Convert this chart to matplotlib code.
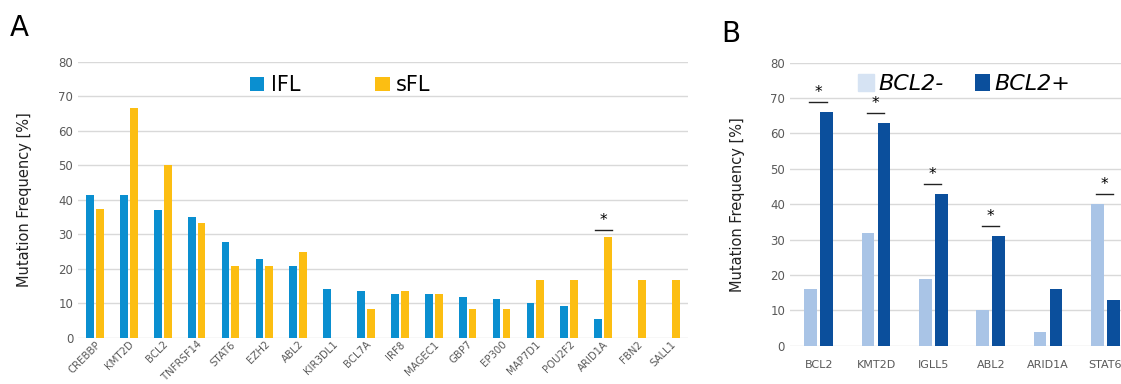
import numpy as np
import matplotlib.pyplot as plt

# panel A data
genesA = ["CREBBP", "KMT2D", "BCL2", "TNFRSF14", "STAT6", "EZH2", "ABL2", "KIR3DL1", "BCL7A", "IRF8",
          "MAGEC1", "GBP7", "EP300", "MAP7D1", "POU2F2", "ARID1A", "FBN2", "SALL1"]
lFL = [41.3, 41.3, 37.1, 35.0, 27.9, 22.9, 20.8, 14.2, 13.7, 12.8, 12.8, 12.0, 11.4, 10.0, 9.2, 5.6, 0, 0]
sFL = [37.5, 66.7, 50.0, 33.3, 20.8, 20.8, 25.0, 0, 8.3, 13.5, 12.8, 8.3, 8.3, 16.7, 16.7, 29.2, 16.7, 16.7]
sigA = ["ARID1A"]

# panel B data
genesB = ["BCL2", "KMT2D", "IGLL5", "ABL2", "ARID1A", "STAT6"]
bcl2_neg = [16, 32, 19, 10, 4, 40]
bcl2_pos = [66, 63, 43, 31, 16, 13]
sigB = ["BCL2", "KMT2D", "IGLL5", "ABL2", "STAT6"]

c_lfl = "#0A8FD0"
c_sfl = "#FCBE12"
c_neg = "#A9C4E6"
c_pos = "#0B4F9C"
gridc = "#D9D9D9"
tickc = "#595959"

fig = plt.figure(figsize=(11.21, 3.84), dpi=100)

def style(ax):
    ax.set_ylim(0, 80)
    ax.set_yticks(range(0, 81, 10))
    ax.yaxis.grid(True, color=gridc, linewidth=1)
    ax.set_axisbelow(True)
    for s in ax.spines.values():
        s.set_visible(False)
    ax.tick_params(length=0, colors=tickc, labelsize=8.5)
    ax.set_ylabel("Mutation Frequency [%]", fontsize=10.5, color="#222222")

# ---- A
axA = fig.add_axes([0.0696, 0.1198, 0.544, 0.719])
n = len(genesA)
x = np.arange(n)
w = 0.23
axA.bar(x - 0.145, lFL, w, color=c_lfl, label="lFL")
axA.bar(x + 0.145, sFL, w, color=c_sfl, label="sFL")
style(axA)
axA.set_xlim(-0.5, n - 0.5)
axA.set_xticks(x)
axA.set_xticklabels(genesA, rotation=45, ha="right", rotation_mode="anchor", fontsize=7.3)
axA.tick_params(axis="x", pad=1)
for g in sigA:
    i = genesA.index(g)
    top = max(lFL[i], sFL[i]) + 2.2
    axA.plot([i - 0.25, i + 0.25], [top, top], color="#222222", linewidth=1)
    axA.text(i, top + 0.6, "*", ha="center", va="bottom", fontsize=11)
axA.yaxis.set_label_coords(-0.075, 0.5)
axA.legend(loc="upper center", bbox_to_anchor=(0.43, 1.02), ncol=2, frameon=False, fontsize=15,
           handlelength=0.7, handleheight=0.7, columnspacing=3.6, handletextpad=0.3)
fig.text(0.009, 0.905, "A", fontsize=20)

# ---- B
axB = fig.add_axes([0.7047, 0.0997, 0.307, 0.737])
xb = np.arange(len(genesB))
wb = 0.22
axB.bar(xb - 0.14, bcl2_neg, wb, color=c_neg, label="BCL2-")
axB.bar(xb + 0.14, bcl2_pos, wb, color=c_pos, label="BCL2+")
style(axB)
axB.set_xlim(-0.5, len(genesB) - 0.5)
axB.set_xticks(xb)
axB.set_xticklabels(genesB, fontsize=8)
axB.tick_params(axis="x", pad=10)
for g in sigB:
    i = genesB.index(g)
    top = max(bcl2_neg[i], bcl2_pos[i]) + 2.8
    axB.plot([i - 0.16, i + 0.14], [top, top], color="#222222", linewidth=1)
    axB.text(i - 0.01, top + 0.6, "*", ha="center", va="bottom", fontsize=11)
axB.yaxis.set_label_coords(-0.13, 0.5)
legB = axB.legend(loc="upper left", bbox_to_anchor=(0.14, 1.03), ncol=2, frameon=False,
                  handlelength=0.7, handleheight=0.8, columnspacing=1.4, handletextpad=0.2,
                  prop={"style": "italic", "size": 16})
legB.legend_handles[0].set_color("#D6E3F3")
fig.text(0.643, 0.89, "B", fontsize=20)

fig.savefig("out.png", dpi=100)
